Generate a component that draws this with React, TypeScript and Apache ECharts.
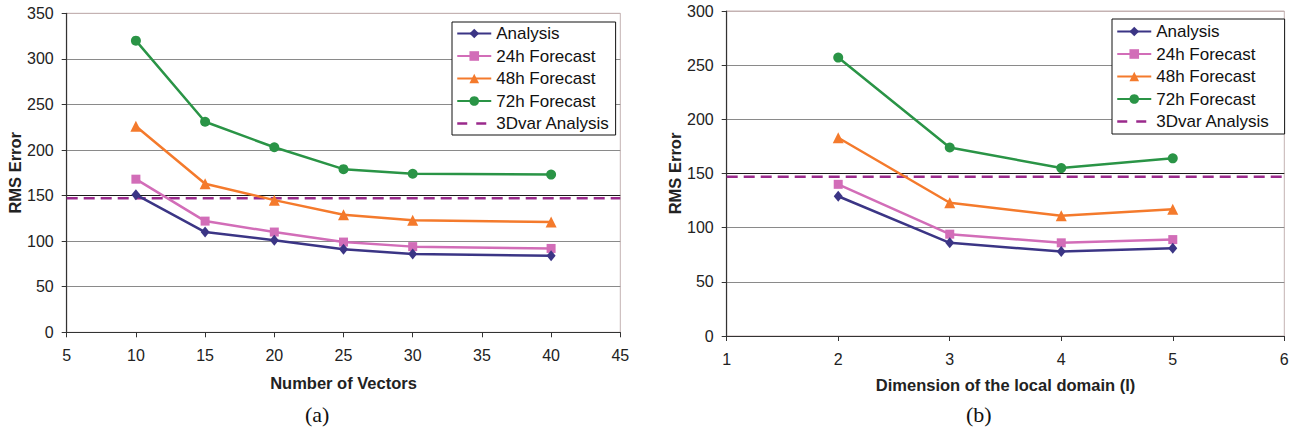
import React, { useEffect, useRef } from "react";
import * as echarts from "echarts";

// ---- Data: panel (a) ----
const vectorCounts = [10, 15, 20, 25, 30, 40];
const analysisA = [151, 110, 101, 91, 86, 84];
const f24A = [168, 122, 110, 99, 94, 92];
const f48A = [226, 163, 145, 129, 123, 121];
const f72A = [320, 231, 203, 179, 174, 173];
const var3dA = 147;
const xRangeA = [5, 45];

// ---- Data: panel (b) ----
const domainDims = [2, 3, 4, 5];
const analysisB = [129, 86, 78, 81];
const f24B = [140, 94, 86, 89];
const f48B = [183, 123, 111, 117];
const f72B = [257, 174, 155, 164];
const var3dB = 147;
const xRangeB = [1, 6];

const seriesNames = ["Analysis", "24h Forecast", "48h Forecast", "72h Forecast", "3Dvar Analysis"];
const captions = ["(a)", "(b)"];

const COLORS = {
  analysis: "#3b3585",
  f24: "#d26db8",
  f48: "#f47a2c",
  f72: "#2a9446",
  var3d: "#9a2a8c",
};
const FONT = "'Liberation Sans', Arial, Helvetica, sans-serif";

const zip = (xs: number[], ys: number[]) => xs.map((x, i) => [x, ys[i]]);

function makeSeries(idx: number, xs: number[], a: number[], f24: number[], f48: number[], f72: number[], v: number, xr: number[]) {
  const base = { type: "line", xAxisIndex: idx, yAxisIndex: idx, lineStyle: { width: 2.5 }, z: 3 };
  return [
    { ...base, name: seriesNames[0], data: zip(xs, a), symbol: "diamond", symbolSize: [9, 11], color: COLORS.analysis, z: 6 },
    { ...base, name: seriesNames[1], data: zip(xs, f24), symbol: "rect", symbolSize: 9, color: COLORS.f24, z: 5 },
    { ...base, name: seriesNames[2], data: zip(xs, f48), symbol: "triangle", symbolSize: 11, color: COLORS.f48, z: 4 },
    { ...base, name: seriesNames[3], data: zip(xs, f72), symbol: "circle", symbolSize: 10, color: COLORS.f72, z: 4 },
    {
      ...base,
      name: seriesNames[4],
      data: zip(xr, [v, v]),
      symbol: "none",
      color: COLORS.var3d,
      lineStyle: { width: 2.5, type: [11, 6] },
      z: 2,
    },
  ];
}

function splitColors(n: number) {
  const arr: string[] = [];
  for (let i = 0; i < n; i++) {
    if (i === 3) arr.push("#1a1a1a");
    else if (i === n - 1) arr.push("#c4b2b2");
    else arr.push("#8a8a8a");
  }
  return arr;
}

export default function App() {
  const ref = useRef<HTMLDivElement>(null);
  useEffect(() => {
    if (!ref.current) return;
    const chart = echarts.init(ref.current, null, { renderer: "svg" });
    const axisLineDark = { show: true, lineStyle: { color: "#333", width: 1.2 } };
    const tick = { show: true, length: 5, inside: false, lineStyle: { color: "#333" } };
    const labelStyle = { color: "#222", fontSize: 16, fontFamily: FONT };
    const nameStyle = { color: "#222", fontSize: 16.5, fontWeight: "bold", fontFamily: FONT };
    const legendData = seriesNames.map((n, i) =>
      i === 4 ? { name: n, itemStyle: { opacity: 0 }, lineStyle: { type: [10, 9], width: 2.5 } } : { name: n }
    );
    const legendCommon = {
      orient: "vertical",
      backgroundColor: "#fff",
      borderColor: "#111",
      borderWidth: 1,
      itemWidth: 34,
      itemHeight: 12,
      itemGap: 5.5,
      data: legendData,
      textStyle: { fontSize: 17, color: "#111", fontFamily: FONT, lineHeight: 17 },
    };
    const option = {
      animation: false,
      backgroundColor: "#fff",
      grid: [
        { left: 66.7, top: 13.3, width: 553.6, height: 319, show: true, borderColor: "#c4b2b2", borderWidth: 1, backgroundColor: "transparent" },
        { left: 726.7, top: 11, width: 557.6, height: 325, show: true, borderColor: "#c4b2b2", borderWidth: 1, backgroundColor: "transparent" },
      ],
      legend: [
        { ...legendCommon, left: 452, top: 22, padding: [3, 6, 3, 4] },
        { ...legendCommon, left: 1112, top: 19, padding: [4, 15, 4, 4] },
      ],
      xAxis: [
        {
          type: "value", gridIndex: 0, min: xRangeA[0], max: xRangeA[1], interval: 5,
          name: "Number of Vectors", nameLocation: "middle", nameGap: 42, nameTextStyle: nameStyle,
          axisLine: axisLineDark, axisTick: tick, axisLabel: { ...labelStyle, margin: 15 }, splitLine: { show: false },
        },
        {
          type: "value", gridIndex: 1, min: xRangeB[0], max: xRangeB[1], interval: 1,
          name: "Dimension of the local domain (l)", nameLocation: "middle", nameGap: 40, nameTextStyle: nameStyle,
          axisLine: axisLineDark, axisTick: tick, axisLabel: { ...labelStyle, margin: 15 }, splitLine: { show: false },
        },
      ],
      yAxis: [
        {
          type: "value", gridIndex: 0, min: 0, max: 350, interval: 50,
          name: "RMS Error", nameLocation: "middle", nameGap: 43, nameTextStyle: nameStyle,
          axisLine: axisLineDark, axisTick: tick, axisLabel: { ...labelStyle, margin: 13 },
          splitLine: { show: true, lineStyle: { color: splitColors(8), width: 1 } },
        },
        {
          type: "value", gridIndex: 1, min: 0, max: 300, interval: 50,
          name: "RMS Error", nameLocation: "middle", nameGap: 41, nameTextStyle: nameStyle,
          axisLine: axisLineDark, axisTick: tick, axisLabel: { ...labelStyle, margin: 13 },
          splitLine: { show: true, lineStyle: { color: splitColors(7), width: 1 } },
        },
      ],
      graphic: [
        { type: "text", left: 305, top: 403, style: { text: captions[0], font: "22px 'Liberation Serif', 'Times New Roman', serif", fill: "#111" } },
        { type: "text", left: 966, top: 403, style: { text: captions[1], font: "22px 'Liberation Serif', 'Times New Roman', serif", fill: "#111" } },
      ],
      series: [
        ...makeSeries(0, vectorCounts, analysisA, f24A, f48A, f72A, var3dA, xRangeA),
        ...makeSeries(1, domainDims, analysisB, f24B, f48B, f72B, var3dB, xRangeB),
      ],
    };
    chart.setOption(option as any);
    return () => chart.dispose();
  }, []);
  return <div ref={ref} style={{ position: "absolute", left: 0, top: 0, width: 1296, height: 432, background: "#fff" }} />;
}
